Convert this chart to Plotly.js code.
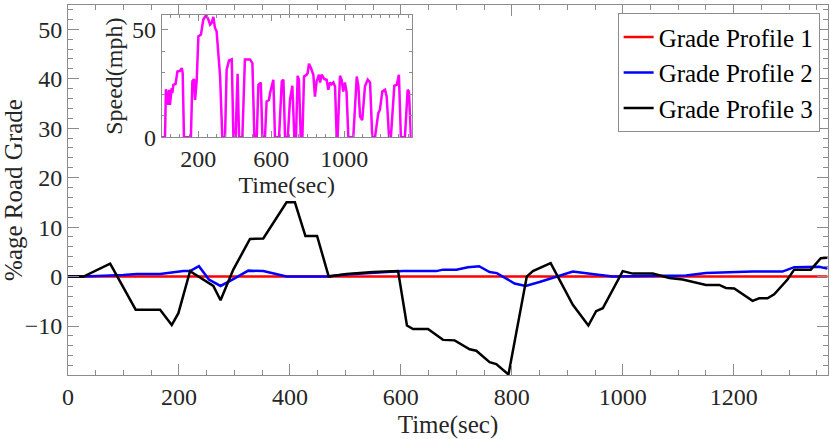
<!DOCTYPE html>
<html>
<head>
<meta charset="utf-8">
<script src="https://cdn.plot.ly/plotly-3.0.1.min.js"></script>
<style>
html,body{margin:0;padding:0;background:#fff;}
#chart{width:830px;height:439px;}
</style>
</head>
<body>
<div id="chart"></div>
<script>
// Grade Profile 1 (flat)
var t1 = [0, 1369];
var g1 = [0, 0];

// Grade Profile 2
var t2 = [0, 28, 100, 124, 166, 208, 220, 236, 254, 275, 298, 325, 352, 370, 394, 465, 502, 604, 664, 676, 700, 721, 741, 760, 773, 805, 825, 850, 874, 910, 952, 982, 1114, 1150, 1234, 1288, 1309, 1354, 1369];
var g2 = [0, 0, 0.3, 0.5, 0.5, 1.1, 1.1, 2.1, -0.6, -1.9, -0.5, 1.2, 1.1, 0.6, 0, 0, 0.4, 1.1, 1.1, 1.4, 1.4, 1.9, 2.1, 0.9, 0.7, -1.4, -1.9, -1.1, -0.3, 1.0, 0.4, 0, 0.2, 0.7, 1.0, 1.0, 1.9, 2.0, 1.6];

// Grade Profile 3
var t3 = [0, 28, 76, 122, 166, 187, 199, 220, 262, 275, 298, 328, 352, 394, 409, 428, 449, 470, 502, 550, 595, 611, 622, 649, 676, 697, 724, 736, 760, 772, 794, 827, 838, 870, 910, 938, 952, 964, 1000, 1018, 1054, 1084, 1108, 1150, 1174, 1186, 1201, 1234, 1246, 1261, 1273, 1297, 1309, 1339, 1357, 1369];
var g3 = [0, 0, 2.6, -6.7, -6.7, -9.8, -7.4, 1.1, -1.9, -4.8, 1.4, 7.6, 7.7, 15, 15, 8.2, 8.2, 0, 0.5, 0.9, 1.1, -9.9, -10.6, -10.6, -12.8, -12.9, -14.7, -15, -17.3, -17.7, -19.8, 0, 1.1, 2.7, -5.7, -9.9, -7, -6.4, 1.1, 0.6, 0.6, -0.3, -0.6, -1.7, -1.7, -2.3, -2.4, -4.9, -4.4, -4.4, -3.6, -0.6, 1.4, 1.4, 3.7, 3.8];

// Inset: vehicle speed (mph)
var ts = [0, 18, 23, 33, 40, 45, 55, 58, 64, 76, 86, 100, 110, 115, 122, 160, 168, 177, 183, 192, 201, 215, 228, 243, 256, 265, 274, 283, 292, 301, 320, 332, 347, 356, 369, 384, 393, 405, 416, 424, 442, 456, 484, 497, 508, 521, 530, 543, 552, 566, 575, 588, 594, 612, 621, 643, 658, 667, 676, 691, 703, 716, 727, 736, 745, 752, 762, 771, 780, 794, 800, 807, 818, 831, 840, 849, 862, 868, 877, 891, 904, 913, 922, 931, 941, 950, 959, 964, 977, 986, 995, 1004, 1013, 1023, 1050, 1069, 1078, 1087, 1099, 1114, 1129, 1142, 1154, 1169, 1187, 1196, 1209, 1224, 1233, 1246, 1256, 1264, 1275, 1288, 1300, 1311, 1333, 1348, 1355, 1366, 1369];
var vs = [0, 0, 22.3, 15, 22, 15, 22.8, 20.5, 24.3, 24.8, 30.5, 30.8, 32.1, 29.8, 0, 0, 25.9, 27, 17.3, 26.7, 46.8, 47.6, 54.6, 56.6, 54.6, 52.2, 53, 55.8, 50.7, 49.1, 28.2, 0, 0, 31.3, 35.6, 36.1, 0, 0, 29.4, 0, 0, 36.1, 36.1, 34.4, 0, 0, 24.3, 25.4, 0, 0, 16.6, 17.3, 20.6, 26.7, 0, 0, 25.9, 26.7, 0, 0, 17.3, 23.9, 0, 0, 28.5, 26.7, 0, 0, 28.2, 29, 29.8, 34.1, 32.1, 29, 18.9, 25.9, 29, 25.4, 29, 27, 26.7, 22, 25.4, 24.6, 25.4, 23.6, 0, 0, 28.5, 26.7, 21.2, 25.4, 21.2, 0, 0, 28.2, 23.6, 9.6, 8, 23.6, 26.7, 25.4, 0, 0, 11.2, 12.8, 21.2, 22, 18.9, 0, 0, 9.9, 23.9, 24.3, 29, 0, 0, 22, 21.2, 0, 0];

var names = ['Grade Profile 1', 'Grade Profile 2', 'Grade Profile 3'];

var FONT = 'Liberation Serif, Times New Roman, Times, serif';
var AX = '#8c8c8c';
var TXT = '#262626';

var traces = [
  {x: t1, y: g1, name: names[0], type: 'scatter', mode: 'lines', line: {color: '#ff0000', width: 2.5}},
  {x: t2, y: g2, name: names[1], type: 'scatter', mode: 'lines', line: {color: '#0000ff', width: 2.5}},
  {x: t3, y: g3, name: names[2], type: 'scatter', mode: 'lines', line: {color: '#000000', width: 2.5}},
  {x: ts, y: vs, name: 'Speed', type: 'scatter', mode: 'lines', xaxis: 'x2', yaxis: 'y2',
   showlegend: false, line: {color: '#ff00ff', width: 2.5}}
];

function axisBase() {
  return {
    showline: true, linecolor: AX, linewidth: 1, mirror: 'allticks',
    ticks: 'inside', tickcolor: AX, tickwidth: 1,
    showgrid: false, zeroline: false,
    tickfont: {family: FONT, size: 24, color: TXT}
  };
}

var xa = axisBase();
Object.assign(xa, {
  range: [0, 1370], tick0: 0, dtick: 200, ticklen: 11,
  minor: {dtick: 50, ticks: 'inside', ticklen: 5, tickcolor: AX, showgrid: false},
  title: {text: 'Time(sec)', font: {family: FONT, size: 25, color: TXT}, standoff: 8}
});

var ya = axisBase();
Object.assign(ya, {
  range: [-19.9, 54.9], tick0: 0, dtick: 10, ticklen: 11,
  minor: {dtick: 2, ticks: 'inside', ticklen: 5, tickcolor: AX, showgrid: false},
  title: {text: '%age Road Grade', font: {family: FONT, size: 25, color: TXT}, standoff: 8}
});

var xa2 = axisBase();
Object.assign(xa2, {
  domain: [0.1233, 0.4522], anchor: 'y2',
  range: [0, 1370], tick0: 200, dtick: 400, ticklen: 6,
  minor: {dtick: 50, ticks: 'inside', ticklen: 3, tickcolor: AX, showgrid: false},
  title: {text: 'Time(sec)', font: {family: FONT, size: 24, color: TXT}, standoff: 3}
});

var ya2 = axisBase();
Object.assign(ya2, {
  domain: [0.6424, 0.973], anchor: 'x2',
  range: [0, 56.7], tick0: 0, dtick: 50, ticklen: 6,
  minor: {dtick: 10, ticks: 'inside', ticklen: 3, tickcolor: AX, showgrid: false},
  title: {text: 'Speed(mph)', font: {family: FONT, size: 24, color: TXT}, standoff: 2}
});

var layout = {
  width: 830, height: 439,
  margin: {l: 68, r: 2, t: 5, b: 64, pad: 0},
  paper_bgcolor: '#ffffff', plot_bgcolor: '#ffffff',
  font: {family: 'Liberation Serif', size: 24, color: TXT},
  showlegend: true,
  legend: {
    x: 0.989, y: 0.978, xanchor: 'right', yanchor: 'top',
    bgcolor: '#ffffff', bordercolor: AX, borderwidth: 1,
    font: {family: 'Liberation Serif', size: 25, color: '#000000'},
    tracegroupgap: 0, itemwidth: 30
  },
  xaxis: xa, yaxis: ya, xaxis2: xa2, yaxis2: ya2
};

Plotly.newPlot('chart', traces, layout, {displayModeBar: false, staticPlot: true});
</script>
</body>
</html>
